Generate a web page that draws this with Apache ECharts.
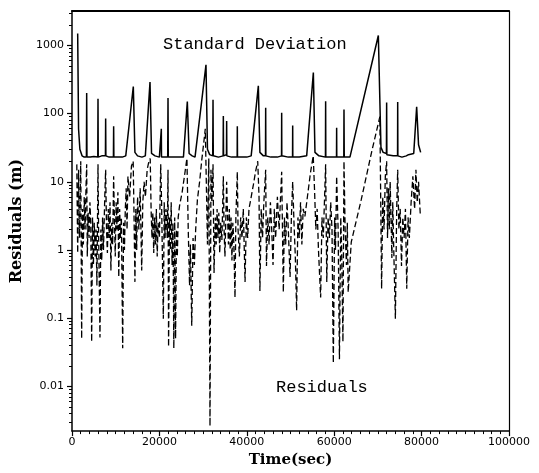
<!DOCTYPE html>
<html>
<head>
<meta charset="utf-8">
<script src="https://cdn.jsdelivr.net/npm/echarts@6/dist/echarts.min.js"></script>
<style>
html,body{margin:0;padding:0;background:#fff;}
#chart{width:539px;height:473px;}
</style>
</head>
<body>
<div id="chart"></div>
<script>
// ---- data ----
const X_TICK_LABELS = ['0', '20000', '40000', '60000', '80000', '100000'];
const Y_TICK_VALUES = [0.01, 0.1, 1, 10, 100, 1000];
const Y_TICK_LABELS = ['0.01', '0.1', '1', '10', '100', '1000'];

const STD_T = [1300,1500,1800,2300,2800,3300,3360,3420,4200,5000,5900,5950,6000,6800,7650,7700,7750,8500,9480,9530,9580,10500,11500,12300,14030,14400,15000,16000,16780,17850,18200,19000,20000,20400,20440,20480,21900,21970,22030,23000,24500,25500,26390,26800,27500,28150,30660,31000,31500,32200,32270,32330,33500,34580,34630,34680,35350,35390,35430,36500,37800,37830,37870,39000,40000,41000,42640,43000,43800,44280,44320,44360,45500,47000,47950,47980,48010,49500,50470,50500,50530,52000,53700,55230,55600,56500,58000,58040,58080,59500,60530,60560,60590,62200,62240,62300,63600,70100,70700,71200,71950,72000,72050,73500,74500,74530,74570,75500,76500,77000,78200,78870,79300,79780];
const STD_V = [1500,60,30,24,23,23,200,23,23,23.5,23,165,23,24,24,85,24,23,23,65,23,23,23,24,250,27,24,23,24,290,26,24,23,23,60,23,23,170,23,23,23,23,150,26,24,23,520,30,25,24,160,24,23,24,92,24,25,78,24,23,23,65,23,23,23,24,255,27,24,24,122,24,23,23,24,103,24,23,23,67,23,23,24,400,27,24,23,152,23,23,23,62,23,23,115,23,23,1400,32,27,26,145,25,24,24,148,24,23,24,25,26,126,35,27];

const RES_T = [1100,1300,1500,1700,2000,2210,2400,2600,2800,3000,3200,3360,3500,3700,3900,4100,4300,4500,4700,4900,5100,5300,5500,5700,5950,6100,6400,6600,6800,7000,7200,7500,7700,7900,8100,8300,8500,8700,8900,9100,9300,9530,9700,9900,10100,10300,10500,10700,10900,11100,11300,11600,11800,12000,
12200,12400,12600,12800,13200,13600,14000,14200,14400,14600,14800,15000,15300,15600,15950,16200,16500,16800,17200,17600,17900,18100,18300,18500,18700,18900,19100,19300,19500,19700,20000,20300,20500,20900,21100,21300,
21500,21800,21970,22100,22300,22500,22700,22900,23100,23300,23500,23700,23900,24100,24300,24600,25200,25800,26300,26600,26900,27100,27400,27700,28000,28300,28700,29200,29700,30200,30500,30800,31000,31300,31580,31800,
32000,32270,32500,32800,33000,33200,33400,33600,33800,34000,34300,34630,34800,35000,35390,35600,35800,36000,36200,36400,36600,36800,37000,37300,37500,37830,38000,38300,38600,38900,39200,39600,39900,40200,40500,40900,41500,42000,42500,42800,43000,43300,43600,43900,44320,44500,44800,45100,45400,45700,
46000,46300,46600,47000,47400,47980,48360,48600,48900,49200,49500,49900,50200,50500,50800,51100,51400,51700,52000,52300,52600,52900,53300,54000,54600,55200,55500,55800,56100,56400,56900,57200,57500,58040,58300,58600,58900,59200,59500,59800,60100,60300,60560,60900,61200,61500,61700,62000,62240,62500,62800,63000,63200,63900,66200,68600,70450,
70850,71100,71400,71700,72000,72200,72400,72600,72800,73000,73200,73400,73600,74000,74300,74530,74800,75100,75400,75700,76000,76300,76600,76900,77200,77600,78000,78400,78700,79000,79300,79700];
const RES_V = [18,0.9,15,1.5,20,0.05,4,1.2,6,2,8,18,0.8,3.5,1.5,5,2.5,0.045,3,0.6,2.5,0.8,2,0.3,18,1.5,0.052,2,0.7,3,1,6,15,2,0.9,4,1.5,5,0.5,2.5,1.2,12,3,0.8,5,2,7,0.4,4,1.5,3,0.036,2.5,1,
4,8,2,12,6,17,20,3,0.34,4,1,6,2,8,0.5,5,10,6,15,20,22,4,1.5,3.5,0.9,3,1.2,4,0.8,2.5,1.5,18,5,0.098,5,1.5,
4,1.5,15,0.038,3,1,5,0.6,2.5,0.036,3,0.05,2,0.8,3,4.4,7,13,22,2,0.3,1.2,0.077,1.5,0.6,2,5.5,10,21,40,60,6,1.2,22,0.0026,15,
5,18,0.46,3,1.2,4,1.5,3.5,0.9,2.5,1.4,12,2,0.8,10,3,1.2,4,1,3,0.7,2.5,1.5,0.2,3,14,2,0.8,3,1.5,4,0.34,3,1.5,4,5.5,9,14,20,6,0.25,4,1.5,5,15,0.58,3,1.2,5,2,
0.6,4,1.5,6,2,14,0.24,3,1.2,5,2,0.4,3,10,2.5,0.8,0.13,3,1.5,5,1.2,4,3.1,7,14,24,7.7,2,4,1,0.2,3,1.5,18,0.34,3,1.5,5,2,0.022,3,1,12,2,0.025,3,1,0.045,20,2,0.6,2.5,0.24,1.3,5.5,28,90,
0.27,6,2,12,20,1.5,8,2,10,3,0.76,5,1.2,0.098,4,15,2,4,0.58,3,1.5,4,0.27,3,1.5,5,12,4,15,5,10,3.3];

const Y_MIN = 0.0022, Y_MAX = 3200;
const X_MIN = 0, X_MAX = 100000, X_STEP = 20000;

// minor log ticks (2..9 x decade) inside the axis range
const Y_MINOR = [];
for (let e = -3; e <= 3; e++) {
  for (let k = 2; k <= 9; k++) {
    const v = k * Math.pow(10, e);
    if (v > Y_MIN && v < Y_MAX) Y_MINOR.push(v);
  }
}

const stdData = STD_T.map((t, i) => [t, STD_V[i]]);
const resData = RES_T.map((t, i) => [t, RES_V[i]]);

function yLabel(v) {
  let best = 0, bd = Infinity;
  Y_TICK_VALUES.forEach((tv, i) => {
    const d = Math.abs(Math.log10(v) - Math.log10(tv));
    if (d < bd) { bd = d; best = i; }
  });
  return bd < 0.01 ? Y_TICK_LABELS[best] : '';
}

const chart = echarts.init(document.getElementById('chart'), null, {renderer: 'canvas'});
const black = '#000';
chart.setOption({
  animation: false,
  backgroundColor: '#fff',
  grid: {left: 72, right: 30, top: 11, bottom: 41, containLabel: false},
  xAxis: [{
    type: 'value', min: X_MIN, max: X_MAX, interval: X_STEP,
    name: 'Time(sec)', nameLocation: 'middle', nameGap: 20,
    nameTextStyle: {fontFamily: 'DejaVu Serif', fontWeight: 'bold', fontSize: 15, color: black},
    axisLine: {show: true, lineStyle: {color: black, width: 1.5}},
    axisTick: {show: true, length: 5, lineStyle: {color: black, width: 1.2}},
    minorTick: {show: true, splitNumber: 10, length: 3, lineStyle: {color: black, width: 1}},
    axisLabel: {fontFamily: 'DejaVu Sans', fontSize: 11, color: black, margin: 6,
      formatter: (v) => X_TICK_LABELS[Math.round((v - X_MIN) / X_STEP)] || ''},
    splitLine: {show: false}
  }, {
    type: 'value', min: X_MIN, max: X_MAX, position: 'top',
    axisLine: {show: true, lineStyle: {color: black, width: 2}},
    axisTick: {show: false}, axisLabel: {show: false}, splitLine: {show: false}
  }],
  yAxis: [{
    type: 'log', logBase: 10, min: Y_MIN, max: Y_MAX,
    name: 'Residuals (m)', nameLocation: 'middle', nameGap: 42, nameRotate: 90,
    nameTextStyle: {fontFamily: 'DejaVu Serif', fontWeight: 'bold', fontSize: 16, color: black},
    axisLine: {show: true, lineStyle: {color: black, width: 1.5}},
    axisTick: {show: true, length: 5, customValues: Y_TICK_VALUES, lineStyle: {color: black, width: 1.2}},
    axisLabel: {show: true, customValues: Y_TICK_VALUES, fontFamily: 'DejaVu Sans', fontSize: 11, color: black, margin: 8,
      formatter: yLabel},
    splitLine: {show: false}
  }, {
    type: 'log', logBase: 10, min: Y_MIN, max: Y_MAX, position: 'left',
    axisLine: {show: false},
    axisTick: {show: true, length: 3, customValues: Y_MINOR, lineStyle: {color: black, width: 1}},
    axisLabel: {show: false}, splitLine: {show: false}
  }, {
    type: 'log', logBase: 10, min: Y_MIN, max: Y_MAX, position: 'right',
    axisLine: {show: true, lineStyle: {color: black, width: 1.2}},
    axisTick: {show: false}, axisLabel: {show: false}, splitLine: {show: false}
  }],
  graphic: [{
    type: 'text', left: 163, top: 36,
    style: {text: 'Standard Deviation', font: '17px "Liberation Mono"', fill: black}
  }, {
    type: 'text', left: 276, top: 379,
    style: {text: 'Residuals', font: '17px "Liberation Mono"', fill: black}
  }],
  series: [{
    name: 'Standard Deviation', type: 'line', data: stdData, xAxisIndex: 0, yAxisIndex: 0,
    showSymbol: false, symbol: 'none',
    lineStyle: {color: black, width: 1.5}
  }, {
    name: 'Residuals', type: 'line', data: resData, xAxisIndex: 0, yAxisIndex: 0,
    showSymbol: false, symbol: 'none',
    lineStyle: {color: black, width: 1.3, type: [6, 3]}
  }]
});
</script>
</body>
</html>
